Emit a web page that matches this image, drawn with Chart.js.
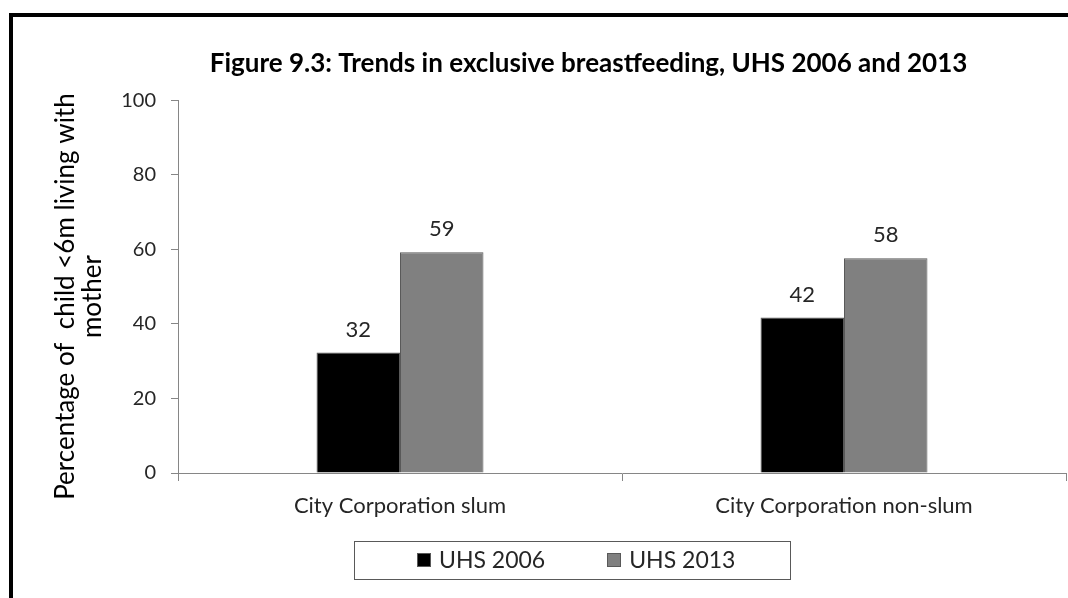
<!DOCTYPE html>
<html>
<head>
<meta charset="utf-8">
<script src="https://cdn.jsdelivr.net/npm/chart.js@4.4.1/dist/chart.umd.min.js"></script>
<style>
  html, body { margin: 0; padding: 0; background: #fff; }
  #wrap { position: relative; width: 1068px; height: 598px; overflow: hidden; }
  #frame { position: absolute; left: 9px; top: 13px; width: 1100px; height: 700px;
           border-top: 4px solid #000; border-left: 4px solid #000; pointer-events: none; }
  canvas { position: absolute; left: 0; top: 0; }
</style>
</head>
<body>
<div id="wrap">
  <canvas id="c" width="1068" height="598"></canvas>
  <div id="frame"></div>
</div>
<script>
const titleText = 'Figure 9.3: Trends in exclusive breastfeeding, UHS 2006 and 2013';
const yAxisTitle = ['Percentage of  child <6m living with   ', 'mother   '];
const categories = ['City Corporation slum', 'City Corporation non-slum'];
const seriesNames = ['UHS 2006', 'UHS 2013'];
const uhs2006 = [32.3, 41.7];
const uhs2013 = [59.2, 57.6];
const dataLabels2006 = ['32', '42'];
const dataLabels2013 = ['59', '58'];
const yTicks = [0, 20, 40, 60, 80, 100];

const FONT = 'Lato, "Open Sans", "DejaVu Sans", sans-serif';
const allLabels = [dataLabels2006, dataLabels2013];

const dataLabelPlugin = {
  id: 'dataLabels',
  afterDatasetsDraw(chart) {
    const ctx = chart.ctx;
    ctx.save();
    ctx.font = '22px ' + FONT;
    ctx.fillStyle = '#262626';
    ctx.textAlign = 'center';
    ctx.textBaseline = 'middle';
    chart.data.datasets.forEach((ds, di) => {
      const meta = chart.getDatasetMeta(di);
      meta.data.forEach((bar, i) => {
        ctx.fillText(allLabels[di][i], bar.x, bar.y - 23);
      });
    });
    ctx.restore();
  }
};

const shiftPlugin = {
  id: 'shiftTitle',
  afterLayout(chart) {
    const t = chart.titleBlock;
    if (t) { t.left += 35.5; t.right += 35.5; }
  }
};

const boxLegendPlugin = {
  id: 'boxLegend',
  afterDraw(chart) {
    const ctx = chart.ctx;
    ctx.save();
    ctx.font = '23px ' + FONT;
    const sq = 14, gapText = 8, gapItem = 62, padLeft = 63, padRight = 55;
    const widths = chart.data.datasets.map(ds => ctx.measureText(ds.label).width);
    const itemsW = widths.reduce((a, w) => a + sq + gapText + w, 0) + gapItem * (widths.length - 1);
    const cx = 571.5, cy = 560;
    const boxW = Math.round(itemsW + padLeft + padRight), boxH = 38;
    const boxL = Math.round(cx - boxW / 2);
    ctx.strokeStyle = '#595959';
    ctx.lineWidth = 1;
    ctx.strokeRect(boxL + 0.5, Math.round(cy - boxH / 2) + 0.5, boxW, boxH);
    let x = boxL + padLeft;
    ctx.textBaseline = 'middle';
    ctx.textAlign = 'left';
    chart.data.datasets.forEach((ds, i) => {
      ctx.fillStyle = ds.backgroundColor;
      ctx.fillRect(Math.round(x), Math.round(cy - sq / 2), sq, sq);
      ctx.strokeStyle = '#595959';
      ctx.strokeRect(Math.round(x) + 0.5, Math.round(cy - sq / 2) + 0.5, sq - 1, sq - 1);
      x += sq + gapText;
      ctx.fillStyle = '#262626';
      ctx.fillText(ds.label, x, cy + 1);
      x += widths[i] + gapItem;
    });
    ctx.restore();
  }
};

new Chart(document.getElementById('c'), {
  type: 'bar',
  data: {
    labels: categories,
    datasets: [
      { label: seriesNames[0], data: uhs2006, backgroundColor: '#000000', borderColor: '#595959', borderWidth: 1 },
      { label: seriesNames[1], data: uhs2013, backgroundColor: '#808080', borderColor: '#595959', borderWidth: 1 }
    ]
  },
  options: {
    responsive: false,
    animation: false,
    devicePixelRatio: 1,
    categoryPercentage: 0.376,
    barPercentage: 1,
    layout: { padding: { left: 40, right: 2, top: 0, bottom: 78 } },
    plugins: {
      legend: { display: false },
      tooltip: { enabled: false },
      title: {
        display: true,
        text: titleText,
        color: '#000',
        font: { family: FONT, size: 26, weight: 'bold', lineHeight: 1.2 },
        padding: { top: 48, bottom: 21 }
      }
    },
    scales: {
      x: {
        grid: { display: true, drawOnChartArea: false, tickLength: 8, color: '#868686', offset: true },
        border: { display: true, color: '#868686', width: 1 },
        ticks: { color: '#262626', font: { family: FONT, size: 22 }, padding: 12, maxRotation: 0 },
        afterFit(scale) { scale.height = 47; }
      },
      y: {
        min: 0, max: 100,
        afterBuildTicks(scale) { scale.ticks = yTicks.map(v => ({ value: v })); },
        grid: { display: true, drawOnChartArea: false, tickLength: 7, color: '#868686' },
        border: { display: true, color: '#868686', width: 1 },
        ticks: { color: '#262626', font: { family: FONT, size: 20 }, padding: 15 },
        title: {
          display: true,
          text: yAxisTitle,
          color: '#000',
          font: { family: FONT, size: 26, lineHeight: 1.04 },
          padding: { top: 12, bottom: 0 }
        },
        afterFit(scale) { scale.width = 138; }
      }
    }
  },
  plugins: [dataLabelPlugin, shiftPlugin, boxLegendPlugin]
});
</script>
</body>
</html>
